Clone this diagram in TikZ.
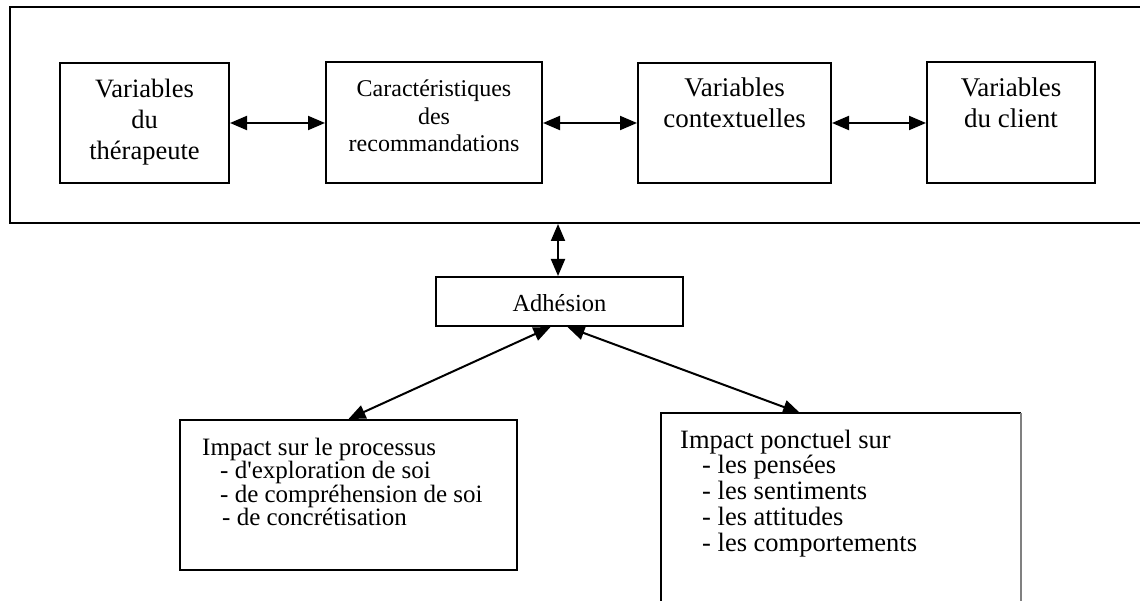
\documentclass[tikz,border=0pt]{standalone}
\usepackage{fontspec}
\setmainfont{Liberation Serif}
\usetikzlibrary{arrows.meta,calc}
\begin{document}
\begin{tikzpicture}[x=1pt,y=-1pt,
  box/.style={draw, line width=2pt, rectangle, inner sep=0pt},
  conn/.style={line width=2pt, {Triangle[length=17pt,width=14pt]}-{Triangle[length=17pt,width=14pt]}},
  lbl/.style={inner sep=0pt, anchor=base},
  lblw/.style={inner sep=0pt, anchor=base west},
  frame/.style={line width=2.2pt}]
\useasboundingbox (0,0) rectangle (1140,601);
% outer frame (open on the right)
\draw[frame] (1140,7) -- (10,7) -- (10,223) -- (1140,223);
\coordinate (fb) at (558,224);
% top boxes
\node[box, minimum width=169pt, minimum height=120pt] (b1) at (144.5,123) {};
\node[box, minimum width=216pt, minimum height=121pt] (b2) at (434,123) {};
\node[box, minimum width=193pt, minimum height=120pt] (b3) at (734.5,123) {};
\node[box, minimum width=168pt, minimum height=121pt] (b4) at (1011,123) {};
\node[lbl] (t1) at (144.5,98) {\fontsize{26.5}{31}\selectfont\begin{tabular}[t]{@{}c@{}}Variables\\du\\thérapeute\end{tabular}};
\node[lbl] (t2) at (434,97) {\fontsize{24}{27.5}\selectfont\begin{tabular}[t]{@{}c@{}}Caractéristiques\\des\\recommandations\end{tabular}};
\node[lbl] (t3) at (734.5,97) {\fontsize{27}{31}\selectfont\begin{tabular}[t]{@{}c@{}}Variables\\contextuelles\end{tabular}};
\node[lbl] (t4) at (1011,97) {\fontsize{27}{31}\selectfont\begin{tabular}[t]{@{}c@{}}Variables\\du client\end{tabular}};
% adhesion
\node[box, minimum width=247pt, minimum height=49pt] (adh) at (559.5,301.5) {};
\node[lbl] (tadh) at (559.5,312) {\fontsize{24.5}{28}\selectfont Adhésion};
% lower left box
\node[box, minimum width=337pt, minimum height=150pt] (ll) at (348.5,495) {};
\node[lblw] (tll) at (202,455) {\fontsize{25}{20.5}\selectfont\begin{tabular}[t]{@{}l@{}}Impact sur le processus\\\hspace{18pt}- d\textquotesingle exploration de soi\\\hspace{18pt}- de compréhension de soi\\\hspace{20pt}- de concrétisation\end{tabular}};
% lower right box (open at the bottom)
\draw[line width=2pt] (661,601) -- (661,413) -- (1021,413);
\draw[line width=1.2pt, gray] (1021,413) -- (1021,601);
\coordinate (rb) at (800,413);
\node[lblw] (tlr) at (680,448) {\fontsize{26.5}{25}\selectfont\begin{tabular}[t]{@{}l@{}}Impact ponctuel sur\\\hspace{22pt}- les pensées\\\hspace{22pt}- les sentiments\\\hspace{22pt}- les attitudes\\\hspace{22pt}- les comportements\end{tabular}};
% connectors
\draw[conn] (b1.east) -- (b2.west);
\draw[conn] (b2.east) -- (b3.west);
\draw[conn] (b3.east) -- (b4.west);
\draw[conn] (fb) -- (fb |- adh.north);
\draw[conn] ([xshift=-9pt]adh.south) -- (ll.north);
\draw[conn] ([xshift=8pt]adh.south) -- (rb);
\end{tikzpicture}
\end{document}
